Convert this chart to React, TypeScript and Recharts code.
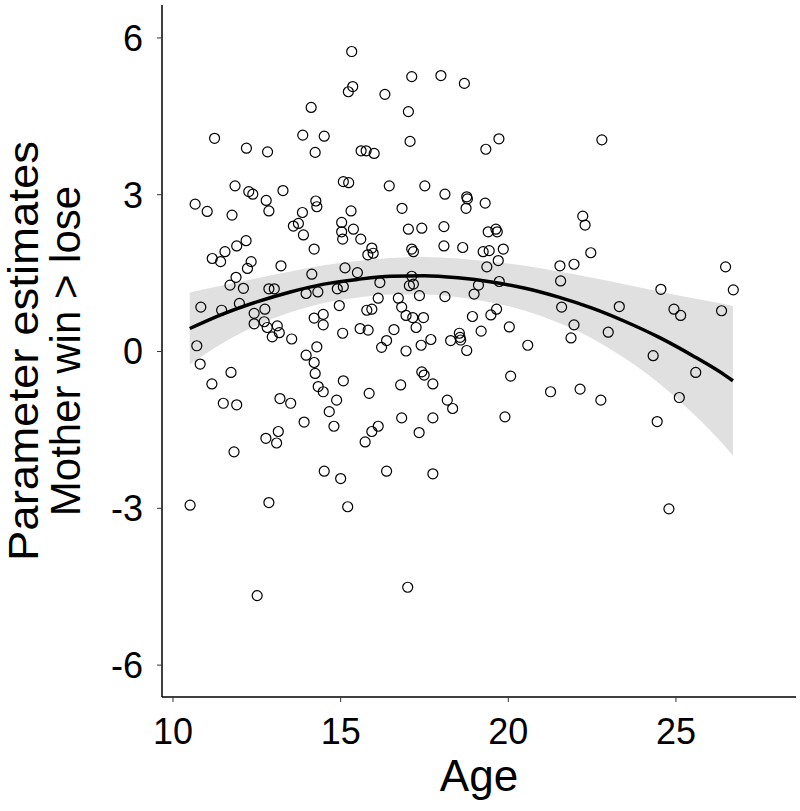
import React from 'react';
import {
  ComposedChart,
  Scatter,
  Line,
  Area,
  XAxis,
  YAxis
} from 'recharts';

// Points: age and parameter estimate, pairwise
const ages = [
  15.33, 15.36, 15.23, 14.12, 11.24, 13.87, 14.51, 12.19, 12.82, 14.24,
  15.61, 15.76, 16.0, 11.85, 12.26, 12.38, 12.78, 13.28, 15.08, 15.24,
  10.66, 11.02, 11.76, 12.86, 14.26, 14.29, 13.86, 15.31, 15.03, 17.12,
  17.99, 18.69, 16.32, 17.02, 17.07, 19.72, 19.33, 16.45, 17.51, 18.11,
  18.76, 18.78, 18.74, 19.31, 16.83, 22.79, 22.22, 13.59, 13.74, 13.89,
  15.03, 15.06, 15.38, 15.6, 12.18, 11.9, 11.55, 11.17, 11.42, 12.33,
  12.22, 14.21, 13.22, 15.81, 11.88, 11.7, 12.1, 14.14, 15.13, 15.5,
  12.86, 13.02, 13.97, 14.32, 14.9, 15.08, 10.83, 11.45, 11.98, 12.42,
  12.74, 14.96, 15.78, 12.42, 12.72, 12.81, 13.11, 13.17, 12.96, 13.54,
  14.21, 14.48, 14.48, 15.06, 15.58, 15.82, 10.71, 14.29, 10.81, 13.97,
  14.21, 14.24, 11.73, 11.16, 15.08, 14.33, 14.48, 15.85, 13.19, 13.51,
  14.88, 11.5, 11.9, 14.66, 13.91, 17.02, 17.42, 18.08, 19.4, 19.63,
  19.67, 15.93, 15.97, 17.12, 17.17, 18.08, 18.64, 19.25, 19.43, 19.85,
  19.7, 19.36, 21.54, 17.12, 16.17, 17.05, 17.17, 19.11, 19.73, 21.56,
  16.12, 16.72, 17.35, 18.11, 18.98, 16.82, 15.93, 16.95, 17.15, 17.47,
  19.65, 19.48, 18.93, 21.59, 17.25, 16.59, 19.19, 20.03, 16.37, 16.22,
  16.95, 17.4, 17.69, 18.28, 18.54, 18.56, 18.58, 18.76, 20.58, 21.87,
  17.42, 17.49, 17.75, 16.79, 20.07, 21.26, 18.18, 18.34, 16.82, 17.75,
  19.9, 22.29, 22.46, 21.96, 26.48, 26.71, 24.55, 23.31, 24.94, 25.14,
  26.36, 21.96, 22.98, 24.32, 25.59, 22.14, 22.76, 25.1, 24.44, 14.8,
  13.14, 12.77, 13.09, 11.82, 15.93, 15.73, 14.51, 15.0, 10.51, 12.86,
  15.21, 12.51, 16.12, 17.34, 16.37, 17.75, 17.0, 24.79
];

const estimates = [
  5.74, 5.07, 4.97, 4.67, 4.08, 4.14, 4.12, 3.89, 3.82, 3.81,
  3.84, 3.84, 3.79, 3.17, 3.06, 3.01, 2.89, 3.08, 3.25, 3.23,
  2.82, 2.68, 2.61, 2.69, 2.88, 2.77, 2.66, 2.69, 2.47, 5.26,
  5.28, 5.13, 4.92, 4.59, 4.02, 4.07, 3.87, 3.17, 3.17, 3.01,
  2.96, 2.92, 2.74, 2.84, 2.74, 4.05, 2.59, 2.4, 2.45, 2.23,
  2.29, 2.15, 2.34, 2.15, 2.12, 2.02, 1.91, 1.78, 1.72, 1.72,
  1.59, 1.96, 1.64, 1.85, 1.42, 1.27, 1.21, 1.48, 1.6, 1.51,
  1.2, 1.2, 1.11, 1.14, 1.2, 1.24, 0.85, 0.79, 0.92, 0.73,
  0.81, 0.88, 0.79, 0.53, 0.57, 0.46, 0.49, 0.36, 0.28, 0.24,
  0.64, 0.71, 0.51, 0.35, 0.44, 0.41, 0.11, 0.09, -0.24, -0.07,
  -0.21, -0.42, -0.4, -0.62, -0.56, -0.67, -0.77, -0.8, -0.9, -0.99,
  -0.93, -0.99, -1.02, -1.15, -1.35, 2.34, 2.36, 2.39, 2.29, 2.34,
  2.29, 1.98, 1.88, 1.96, 1.91, 2.02, 1.99, 1.91, 1.93, 1.96,
  1.74, 1.62, 1.64, 1.44, 1.32, 1.26, 1.29, 1.27, 1.34, 1.35,
  1.02, 1.02, 1.07, 1.05, 1.1, 0.85, 0.81, 0.69, 0.65, 0.65,
  0.81, 0.7, 0.67, 0.85, 0.46, 0.42, 0.39, 0.47, 0.21, 0.08,
  0.01, 0.12, 0.23, 0.21, 0.35, 0.27, 0.22, 0.02, 0.12, 0.26,
  -0.39, -0.45, -0.62, -0.64, -0.47, -0.77, -0.93, -1.09, -1.27, -1.27,
  -1.25, 2.42, 1.89, 1.67, 1.62, 1.18, 1.19, 0.86, 0.81, 0.69,
  0.78, 0.51, 0.37, -0.08, -0.4, -0.72, -0.93, -0.88, -1.34, -1.43,
  -1.53, -1.66, -1.75, -1.92, -1.53, -1.73, -2.29, -2.43, -2.94, -2.89,
  -2.97, -4.67, -1.43, -1.55, -2.29, -2.34, -4.51, -3.01
];

// Quadratic fit line and its confidence band
const fitAges = [10.5, 11.5, 12.5, 13.5, 14.5, 15.5, 16.5, 17.5, 18.5, 19.5, 20.5, 21.5, 22.5, 23.5, 24.5, 25.5, 26.5, 26.7];
const fitValues = [0.44, 0.72, 0.95, 1.14, 1.29, 1.38, 1.44, 1.45, 1.41, 1.33, 1.21, 1.04, 0.83, 0.57, 0.27, -0.08, -0.47, -0.56];
const ciLower = [-0.25, 0.17, 0.5, 0.75, 0.93, 1.03, 1.09, 1.09, 1.04, 0.94, 0.78, 0.55, 0.25, -0.14, -0.61, -1.18, -1.84, -1.99];
const ciUpper = [1.13, 1.27, 1.4, 1.53, 1.65, 1.73, 1.79, 1.81, 1.78, 1.72, 1.64, 1.53, 1.41, 1.28, 1.15, 1.02, 0.9, 0.87];

const xTicks = [10, 15, 20, 25];
const yTicks = [-6, -3, 0, 3, 6];

const FONT = '"Liberation Sans", Arial, sans-serif';

const points = ages.map((age, i) => ({ age, est: estimates[i] }));
const fitLine = fitAges.map((age, i) => ({ age, fit: fitValues[i] }));
const band = fitAges.map((age, i) => ({ age, ci: [ciLower[i], ciUpper[i]] }));

const OpenCircle = (props: any) => {
  if (props.cx == null || props.cy == null) return null;
  return <circle cx={props.cx} cy={props.cy} r={5} fill="none" stroke="#000" strokeWidth={1.2} />;
};

const YTitle = () => (
  <g fontFamily={FONT} fontSize={42} fill="#000">
    <text x={38} y={351} transform="rotate(-90, 38, 351)" textAnchor="middle"
      textLength={420} lengthAdjust="spacingAndGlyphs">
      Parameter estimates
    </text>
    <text x={80} y={351} transform="rotate(-90, 80, 351)" textAnchor="middle">
      Mother win &gt; lose
    </text>
  </g>
);

const XTitle = () => (
  <text x={479} y={791} textAnchor="middle" fontFamily={FONT} fontSize={44} fill="#000">
    Age
  </text>
);

export default function App() {
  return (
    <div style={{ position: 'absolute', left: 0, top: 0, width: 800, height: 811, background: '#fff' }}>
      <ComposedChart width={800} height={811} margin={{ top: 5, right: 4, bottom: 0, left: 0 }}>
        <XAxis
          dataKey="age"
          type="number"
          domain={[9.672, 28.58]}
          ticks={xTicks}
          allowDataOverflow
          height={114}
          tickSize={5}
          tickMargin={16}
          axisLine={{ stroke: '#000', strokeWidth: 1.5 }}
          tickLine={{ stroke: '#333' }}
          tick={{ fill: '#000', fontSize: 36, fontFamily: FONT }}
          label={{ content: XTitle }}
        />
        <YAxis
          type="number"
          domain={[-6.61, 6.63]}
          ticks={yTicks}
          allowDataOverflow
          width={162}
          tickSize={5}
          tickMargin={14}
          axisLine={{ stroke: '#000', strokeWidth: 1.5 }}
          tickLine={{ stroke: '#333' }}
          tick={{ fill: '#000', fontSize: 36, fontFamily: FONT }}
          label={{ content: YTitle }}
        />
        <Scatter data={points} dataKey="est" shape={OpenCircle} isAnimationActive={false} />
        <Area
          data={band}
          dataKey="ci"
          type="monotone"
          stroke="none"
          fill="#cccccc"
          fillOpacity={0.6}
          isAnimationActive={false}
        />
        <Line
          data={fitLine}
          dataKey="fit"
          type="monotone"
          stroke="#000"
          strokeWidth={3.5}
          dot={false}
          activeDot={false}
          isAnimationActive={false}
        />
      </ComposedChart>
    </div>
  );
}
